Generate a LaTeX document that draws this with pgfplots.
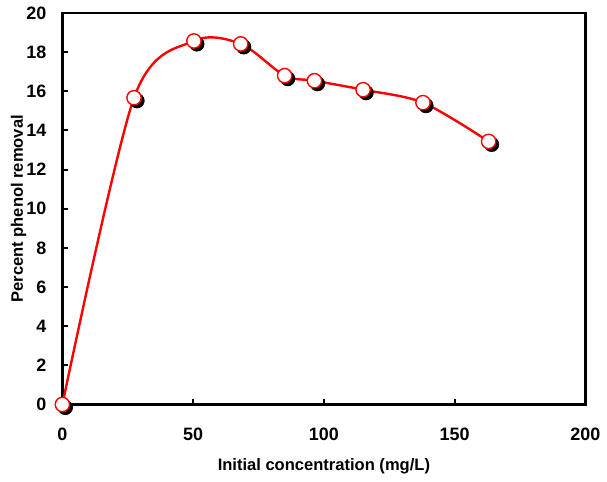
\documentclass[border=0pt]{standalone}
\usepackage{pgfplots}
\pgfplotsset{compat=1.18}
\usepackage{fontspec}
\setmainfont{Liberation Sans}

\pgfplotstableread{
x y
0 0
27.4 15.67
50.3 18.57
68.2 18.42
85.0 16.80
96.4 16.54
115.0 16.08
137.9 15.42
163.0 13.44
}\removal

\begin{document}
\begin{tikzpicture}
\begin{axis}[
    scale only axis,
    width=262.5pt, height=196.5pt,
    xmin=0, xmax=200, ymin=0, ymax=20,
    xtick={0,50,...,200}, ytick={0,2,...,20},
    xtick pos=bottom, ytick pos=left,
    tick align=inside,
    major tick length=3pt,
    axis line style={line width=1.3pt},
    every tick/.style={black, line width=1pt},
    /pgf/number format/assume math mode=true,
    tick label style={font=\fontsize{9}{10}\selectfont\bfseries},
    xticklabel style={yshift=-8.5pt},
    yticklabel style={xshift=-4.5pt},
    label style={font=\fontsize{8.3}{10}\selectfont\bfseries},
    xlabel={Initial concentration (mg/L)},
    ylabel={Percent phenol removal},
    xlabel style={yshift=-1pt, inner ysep=4pt},
    ylabel style={yshift=-9pt, inner ysep=5.5pt},
    clip=false,
]
\addplot[red, line width=1.2pt, smooth, tension=0.5] table {\removal};
\addplot[only marks, mark=*, mark size=3.6pt,
    mark options={fill=black, draw=black, xshift=1.5pt, yshift=-1.5pt}] table {\removal};
\addplot[only marks, mark=*, mark size=3.6pt,
    mark options={fill=white, draw=red, line width=0.7pt}] table {\removal};
\end{axis}
\end{tikzpicture}
\end{document}
